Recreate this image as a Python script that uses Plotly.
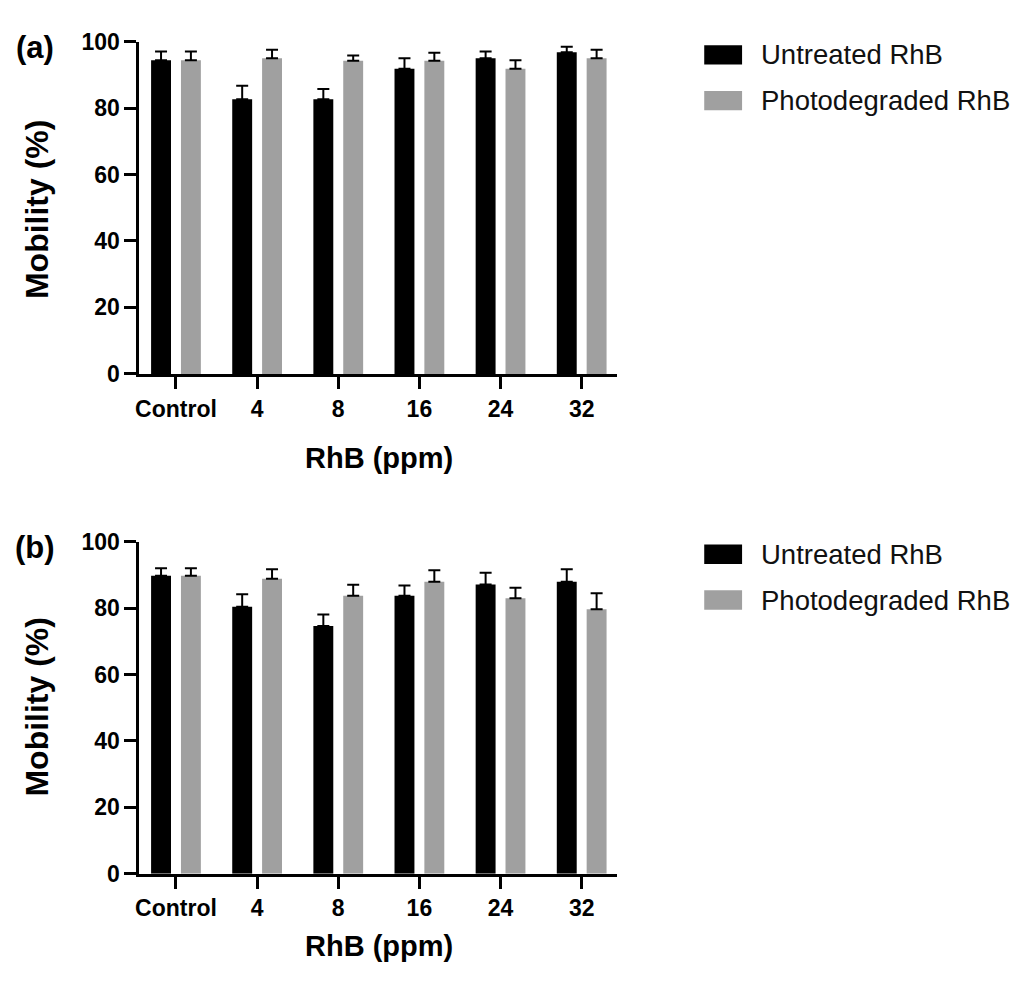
import plotly.graph_objects as go

categories = ["Control", "4", "8", "16", "24", "32"]

# Panel (a)
a_untreated = [94.4, 82.6, 82.6, 91.8, 95.0, 96.8]
a_untreated_err = [2.6, 4.1, 3.1, 3.2, 2.0, 1.6]
a_photo = [94.4, 95.0, 94.2, 94.2, 91.8, 95.0]
a_photo_err = [2.6, 2.5, 1.6, 2.4, 2.6, 2.5]

# Panel (b)
b_untreated = [89.8, 80.5, 74.7, 83.8, 87.2, 88.0]
b_untreated_err = [2.3, 3.7, 3.4, 3.1, 3.5, 3.8]
b_photo = [89.8, 88.9, 83.8, 88.0, 83.0, 79.7]
b_photo_err = [2.3, 2.9, 3.3, 3.5, 3.2, 4.8]

series_names = ["Untreated RhB", "Photodegraded RhB"]
series_colors = ["#000000", "#a0a0a0"]
y_ticks = [0, 20, 40, 60, 80, 100]
x_title = "RhB (ppm)"
y_title = "Mobility (%)"
panel_labels = ["(a)", "(b)"]

W, H = 1014, 985
FONT = "Liberation Sans"


def px_x(x):
    return x / W


def px_y(y):
    return 1 - y / H


fig = go.Figure()

panels = [
    (a_untreated, a_untreated_err, a_photo, a_photo_err, "x", "y"),
    (b_untreated, b_untreated_err, b_photo, b_photo_err, "x2", "y2"),
]

for (u, ue, p, pe, xa, ya) in panels:
    for vals, errs, name, col in [(u, ue, series_names[0], series_colors[0]),
                                  (p, pe, series_names[1], series_colors[1])]:
        fig.add_trace(go.Bar(
            x=categories, y=vals, name=name, xaxis=xa, yaxis=ya,
            marker=dict(color=col, line=dict(width=0)),
            error_y=dict(type="data", symmetric=False, array=errs,
                         arrayminus=[0] * len(errs), color="#000000",
                         thickness=2, width=6),
            showlegend=False,
        ))

xdom = [px_x(136), px_x(615)]
common_x = dict(
    domain=xdom, range=[-0.45, 5.43], type="category",
    showline=True, linewidth=3, linecolor="black",
    ticks="outside", ticklen=12, tickwidth=3, tickcolor="black",
    tickfont=dict(family=FONT, size=23, color="black", weight="bold"),
    showgrid=False, zeroline=False, fixedrange=True,
)
common_y = dict(
    range=[0, 100], tickvals=y_ticks,
    showline=True, linewidth=3, linecolor="black",
    ticks="outside", ticklen=12, tickwidth=3, tickcolor="black",
    tickfont=dict(family=FONT, size=23, color="black", weight="bold"),
    showgrid=False, zeroline=False, fixedrange=True,
)

fig.update_layout(
    width=W, height=H,
    margin=dict(l=0, r=0, t=0, b=0),
    paper_bgcolor="white", plot_bgcolor="white",
    barmode="group", bargap=0.264, bargroupgap=0.333,
    showlegend=False,
    xaxis=dict(common_x, anchor="y"),
    yaxis=dict(common_y, domain=[px_y(370.7), px_y(29.3)], anchor="x"),
    xaxis2=dict(common_x, anchor="y2"),
    yaxis2=dict(common_y, domain=[px_y(884), px_y(543.3)], anchor="x2"),
)

annotations = []
shapes = []
for (xt_y, yt_y, leg_y) in [(457, 201.5, 43), (958, 712.5, 556)]:
    annotations.append(dict(text=x_title, x=px_x(376), y=px_y(xt_y), xref="paper", yref="paper",
                            xanchor="center", yanchor="middle", showarrow=False,
                            font=dict(family=FONT, size=29, color="black", weight="bold")))
    annotations.append(dict(text=y_title, x=px_x(33), y=px_y(yt_y), xref="paper", yref="paper",
                            xanchor="center", yanchor="middle", showarrow=False, textangle=-90,
                            font=dict(family=FONT, size=32, color="black", weight="bold")))
    for i, (name, col) in enumerate(zip(series_names, series_colors)):
        cy = leg_y + i * 47
        shapes.append(dict(type="rect", xref="paper", yref="paper",
                           x0=px_x(703), x1=px_x(741), y0=px_y(cy + 10), y1=px_y(cy - 10),
                           fillcolor=col, line=dict(width=0)))
        annotations.append(dict(text=name, x=px_x(758), y=px_y(cy), xref="paper", yref="paper",
                                xanchor="left", yanchor="middle", showarrow=False,
                                font=dict(family=FONT, size=27.5, color="#111111")))

for lab, ly in zip(panel_labels, [35, 549]):
    annotations.append(dict(text=lab, x=px_x(31), y=px_y(ly), xref="paper", yref="paper",
                            xanchor="center", yanchor="middle", showarrow=False,
                            font=dict(family=FONT, size=31, color="black", weight="bold")))

fig.update_layout(annotations=annotations, shapes=shapes)
fig.write_html("out.html")
